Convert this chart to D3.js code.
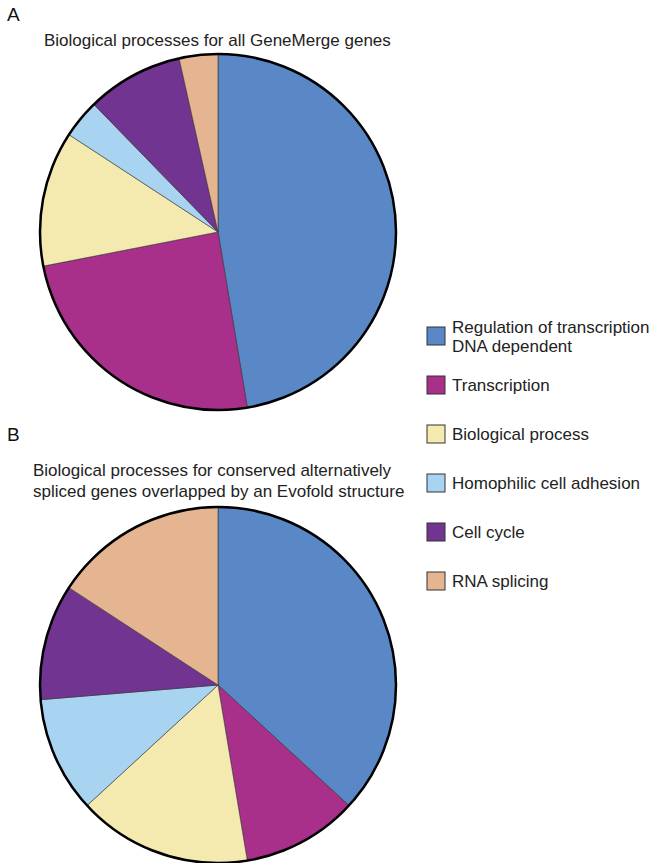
<!DOCTYPE html>
<html>
<head>
<meta charset="utf-8">
<script src="https://cdn.jsdelivr.net/npm/d3@7"></script>
<style>
  body { margin: 0; background: #fff; }
  svg { display: block; font-family: "Liberation Sans", Arial, sans-serif; }
</style>
</head>
<body>
<svg width="650" height="863"></svg>
<script>
// categories, in legend order (also slice order clockwise from 12 o'clock)
const categories = [
  "Regulation of transcription DNA dependent",
  "Transcription",
  "Biological process",
  "Homophilic cell adhesion",
  "Cell cycle",
  "RNA splicing"
];
const legendLabels = [
  ["Regulation of transcription", "DNA dependent"],
  ["Transcription"],
  ["Biological process"],
  ["Homophilic cell adhesion"],
  ["Cell cycle"],
  ["RNA splicing"]
];
// gene counts
const countsA = [27, 14, 7, 2, 5, 2];
const countsB = [7, 2, 3, 2, 2, 3];
const colors = ["#5a87c5", "#a8308b", "#f4eab0", "#a8d4f2", "#713490", "#e5b591"];

const svg = d3.select("svg");
const color = d3.scaleOrdinal().domain(categories).range(colors);

const pie = d3.pie().sort(null).value(d => d.value);
const R = 178;
const arc = d3.arc().innerRadius(0).outerRadius(R);

const drawPie = (counts, cx, cy) => {
  const data = categories.map((c, i) => ({ name: c, value: counts[i] }));
  const g = svg.append("g").attr("transform", `translate(${cx},${cy})`);
  g.selectAll("path")
    .data(pie(data))
    .enter()
    .append("path")
    .attr("d", arc)
    .attr("fill", d => color(d.data.name))
    .attr("stroke", "#333")
    .attr("stroke-width", 0.6);
  g.append("circle")
    .attr("r", R)
    .attr("fill", "none")
    .attr("stroke", "#000")
    .attr("stroke-width", 2.5);
};

// panel A
svg.append("text").attr("x", 7).attr("y", 21).attr("font-size", 19).attr("fill", "#111").text("A");
svg.append("text").attr("x", 44).attr("y", 46).attr("font-size", 17).attr("fill", "#222")
  .text("Biological processes for all GeneMerge genes");
drawPie(countsA, 218, 232);

// panel B
svg.append("text").attr("x", 7).attr("y", 441).attr("font-size", 19).attr("fill", "#111").text("B");
svg.append("text").attr("x", 33).attr("y", 476).attr("font-size", 17).attr("fill", "#222")
  .text("Biological processes for conserved alternatively");
svg.append("text").attr("x", 33).attr("y", 497).attr("font-size", 17).attr("fill", "#222")
  .text("spliced genes overlapped by an Evofold structure");
drawPie(countsB, 218, 685);

// legend
const legendY = d3.scalePoint().domain(categories).range([327, 572]);
const legend = svg.append("g")
  .selectAll("g")
  .data(categories)
  .enter()
  .append("g")
  .attr("transform", d => `translate(427,${legendY(d)})`);

legend.append("rect")
  .attr("width", 18).attr("height", 18)
  .attr("fill", d => color(d))
  .attr("stroke", "#333").attr("stroke-width", 1);

legend.each(function (d, i) {
  const lines = legendLabels[i];
  const t = d3.select(this).append("text")
    .attr("x", 25)
    .attr("font-size", 17)
    .attr("fill", "#222");
  lines.forEach((ln, j) => {
    t.append("tspan")
      .attr("x", 25)
      .attr("y", lines.length > 1 ? 6 + j * 19 : 15)
      .text(ln);
  });
});
</script>
</body>
</html>
